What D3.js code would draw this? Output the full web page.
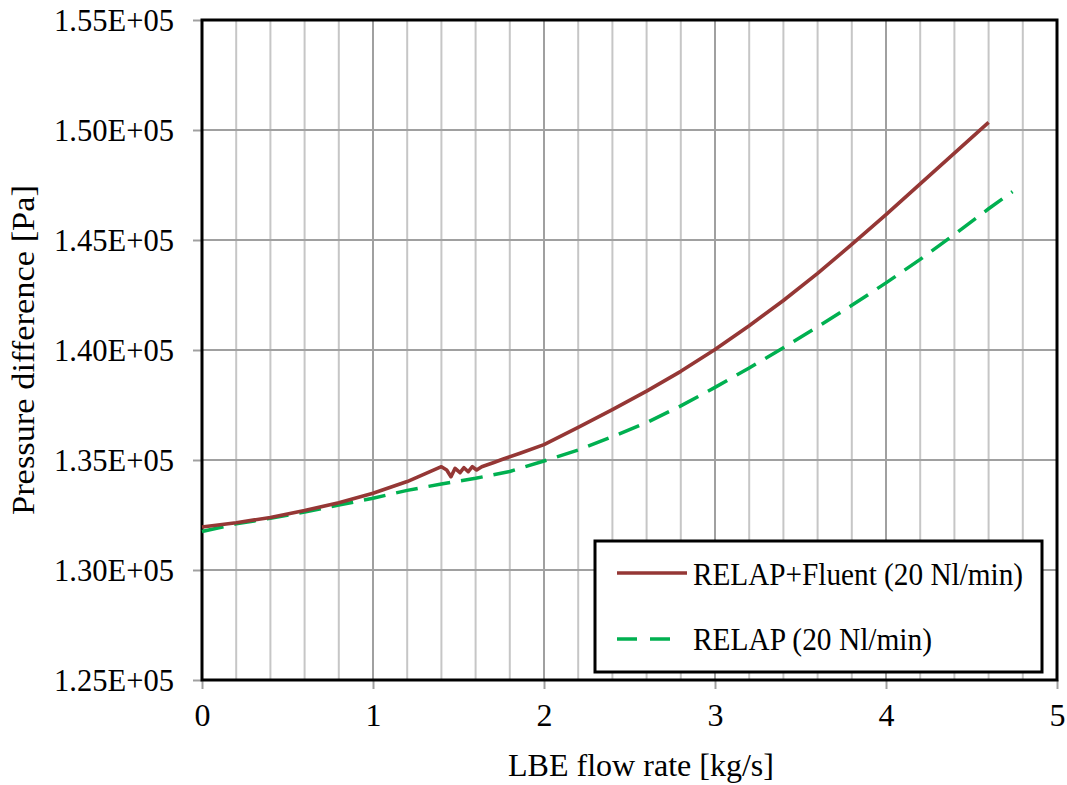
<!DOCTYPE html>
<html>
<head>
<meta charset="utf-8">
<script src="https://cdn.jsdelivr.net/npm/d3@7"></script>
<style>
  html, body { margin: 0; padding: 0; background: #fff; }
  svg { display: block; }
</style>
</head>
<body>
<svg id="chart" width="1067" height="785"></svg>
<script>
// ---- data ----
const xTickValues = [0, 1, 2, 3, 4, 5];
const xTickLabels = ["0", "1", "2", "3", "4", "5"];
const xMinorTicks = [0.2, 0.4, 0.6, 0.8, 1.2, 1.4, 1.6, 1.8, 2.2, 2.4, 2.6, 2.8, 3.2, 3.4, 3.6, 3.8, 4.2, 4.4, 4.6, 4.8];
const yTickValues = [125000, 130000, 135000, 140000, 145000, 150000, 155000];
const yTickLabels = ["1.25E+05", "1.30E+05", "1.35E+05", "1.40E+05", "1.45E+05", "1.50E+05", "1.55E+05"];

const seriesNames = ["RELAP+Fluent (20 Nl/min)", "RELAP (20 Nl/min)"];

const fluentX = [0, 0.2, 0.4, 0.6, 0.8, 1.0, 1.2, 1.4, 1.431, 1.456, 1.48, 1.509, 1.532, 1.557, 1.581, 1.606, 1.636, 1.665, 1.703, 1.762, 1.86, 2.0, 2.2, 2.4, 2.6, 2.8, 3.0, 3.2, 3.4, 3.6, 3.8, 4.0, 4.2, 4.4, 4.6];
const fluentY = [131955, 132150, 132390, 132700, 133060, 133486, 134020, 134695, 134545, 134241, 134623, 134423, 134650, 134468, 134695, 134545, 134695, 134773, 134877, 135045, 135305, 135700, 136480, 137290, 138130, 139030, 140020, 141100, 142250, 143480, 144800, 146150, 147550, 148950, 150350];

const relapX = [0, 0.2, 0.4, 0.6, 0.8, 1.0, 1.2, 1.4, 1.6, 1.8, 2.0, 2.2, 2.4, 2.6, 2.8, 3.0, 3.2, 3.4, 3.6, 3.8, 4.0, 4.2, 4.4, 4.6, 4.74];
const relapY = [131750, 132100, 132350, 132630, 132950, 133260, 133620, 133910, 134170, 134480, 134955, 135450, 136060, 136700, 137460, 138300, 139180, 140100, 141050, 142030, 143050, 144120, 145250, 146420, 147200];

// ---- layout ----
const FONT = '"Liberation Serif", LiberationSerif, "Times New Roman", Times, Tinos, "DejaVu Serif", "Noto Serif", FreeSerif, serif';
const svg = d3.select("#chart");
const plotL = 202, plotR = 1057, plotT = 20, plotB = 680;

const x = d3.scaleLinear().domain([0, 5]).range([plotL, plotR]);
const y = d3.scaleLinear().domain([125000, 155000]).range([plotB, plotT]);

// grid
const grid = svg.append("g");
grid.selectAll("line.minor").data(xMinorTicks).enter().append("line")
  .attr("x1", d => x(d)).attr("x2", d => x(d))
  .attr("y1", plotT).attr("y2", plotB)
  .attr("stroke", "#c6c6c6").attr("stroke-width", 2);
grid.selectAll("line.majorx").data(xTickValues).enter().append("line")
  .attr("x1", d => x(d)).attr("x2", d => x(d))
  .attr("y1", plotT).attr("y2", plotB)
  .attr("stroke", "#a0a0a0").attr("stroke-width", 2);
grid.selectAll("line.majory").data(yTickValues).enter().append("line")
  .attr("x1", plotL).attr("x2", plotR)
  .attr("y1", d => y(d)).attr("y2", d => y(d))
  .attr("stroke", "#a0a0a0").attr("stroke-width", 2);

// axes
const xAxis = d3.axisBottom(x).tickValues(xTickValues)
  .tickFormat((d, i) => xTickLabels[i]).tickSize(9).tickPadding(14);
const gx = svg.append("g").attr("transform", `translate(0,${plotB})`).call(xAxis);
gx.attr("font-family", FONT).attr("font-size", 32);
gx.select(".domain").remove();
gx.selectAll(".tick line").attr("stroke", "#a0a0a0").attr("stroke-width", 2);
gx.selectAll(".tick text").attr("fill", "#000");

const yAxis = d3.axisLeft(y).tickValues(yTickValues)
  .tickFormat((d, i) => yTickLabels[i]).tickSize(9).tickPadding(20);
const gy = svg.append("g").attr("transform", `translate(${plotL},0)`).call(yAxis);
gy.attr("font-family", FONT).attr("font-size", 32);
gy.select(".domain").remove();
gy.selectAll(".tick line").attr("stroke", "#a0a0a0").attr("stroke-width", 2);
gy.selectAll(".tick text").attr("fill", "#000")
  .attr("text-anchor", "start").attr("x", -148)
  .attr("textLength", 120).attr("lengthAdjust", "spacingAndGlyphs");

// frame
svg.append("rect").attr("x", plotL).attr("y", plotT)
  .attr("width", plotR - plotL).attr("height", plotB - plotT)
  .attr("fill", "none").attr("stroke", "#000").attr("stroke-width", 3);

// lines
const relapData = relapX.map((d, i) => [d, relapY[i]]);
const fluentData = fluentX.map((d, i) => [d, fluentY[i]]);

const lineGen = d3.line().x(d => x(d[0])).y(d => y(d[1]));

svg.append("path").datum(relapData)
  .attr("d", lineGen)
  .attr("fill", "none").attr("stroke", "#00b050").attr("stroke-width", 3.5)
  .attr("stroke-dasharray", "22,11");

svg.append("path").datum(fluentData)
  .attr("d", lineGen)
  .attr("fill", "none").attr("stroke", "#953735").attr("stroke-width", 3.6)
  .attr("stroke-linejoin", "round");

// axis titles
const titles = svg.append("g").attr("font-family", FONT).attr("font-size", 32).attr("fill", "#000");
titles.append("text").attr("x", 508).attr("y", 776)
  .attr("textLength", 266).attr("lengthAdjust", "spacingAndGlyphs")
  .text("LBE flow rate [kg/s]");

titles.append("text")
  .attr("transform", "translate(34,515) rotate(-90)")
  .attr("textLength", 330).attr("lengthAdjust", "spacingAndGlyphs")
  .text("Pressure difference [Pa]");

// legend
const lg = svg.append("g").attr("font-family", FONT).attr("font-size", 31).attr("fill", "#000");
lg.append("rect").attr("x", 595).attr("y", 541).attr("width", 447).attr("height", 131)
  .attr("fill", "#fff").attr("stroke", "#000").attr("stroke-width", 3);
lg.append("line").attr("x1", 617).attr("x2", 687).attr("y1", 573).attr("y2", 573)
  .attr("stroke", "#953735").attr("stroke-width", 3.4);
lg.append("text").attr("x", 693).attr("y", 585)
  .attr("textLength", 330).attr("lengthAdjust", "spacingAndGlyphs").text(seriesNames[0]);
lg.append("line").attr("x1", 617).attr("x2", 680).attr("y1", 639).attr("y2", 639)
  .attr("stroke", "#00b050").attr("stroke-width", 3.5).attr("stroke-dasharray", "20,13");
lg.append("text").attr("x", 693).attr("y", 650)
  .attr("textLength", 239).attr("lengthAdjust", "spacingAndGlyphs").text(seriesNames[1]);
</script>
</body>
</html>
